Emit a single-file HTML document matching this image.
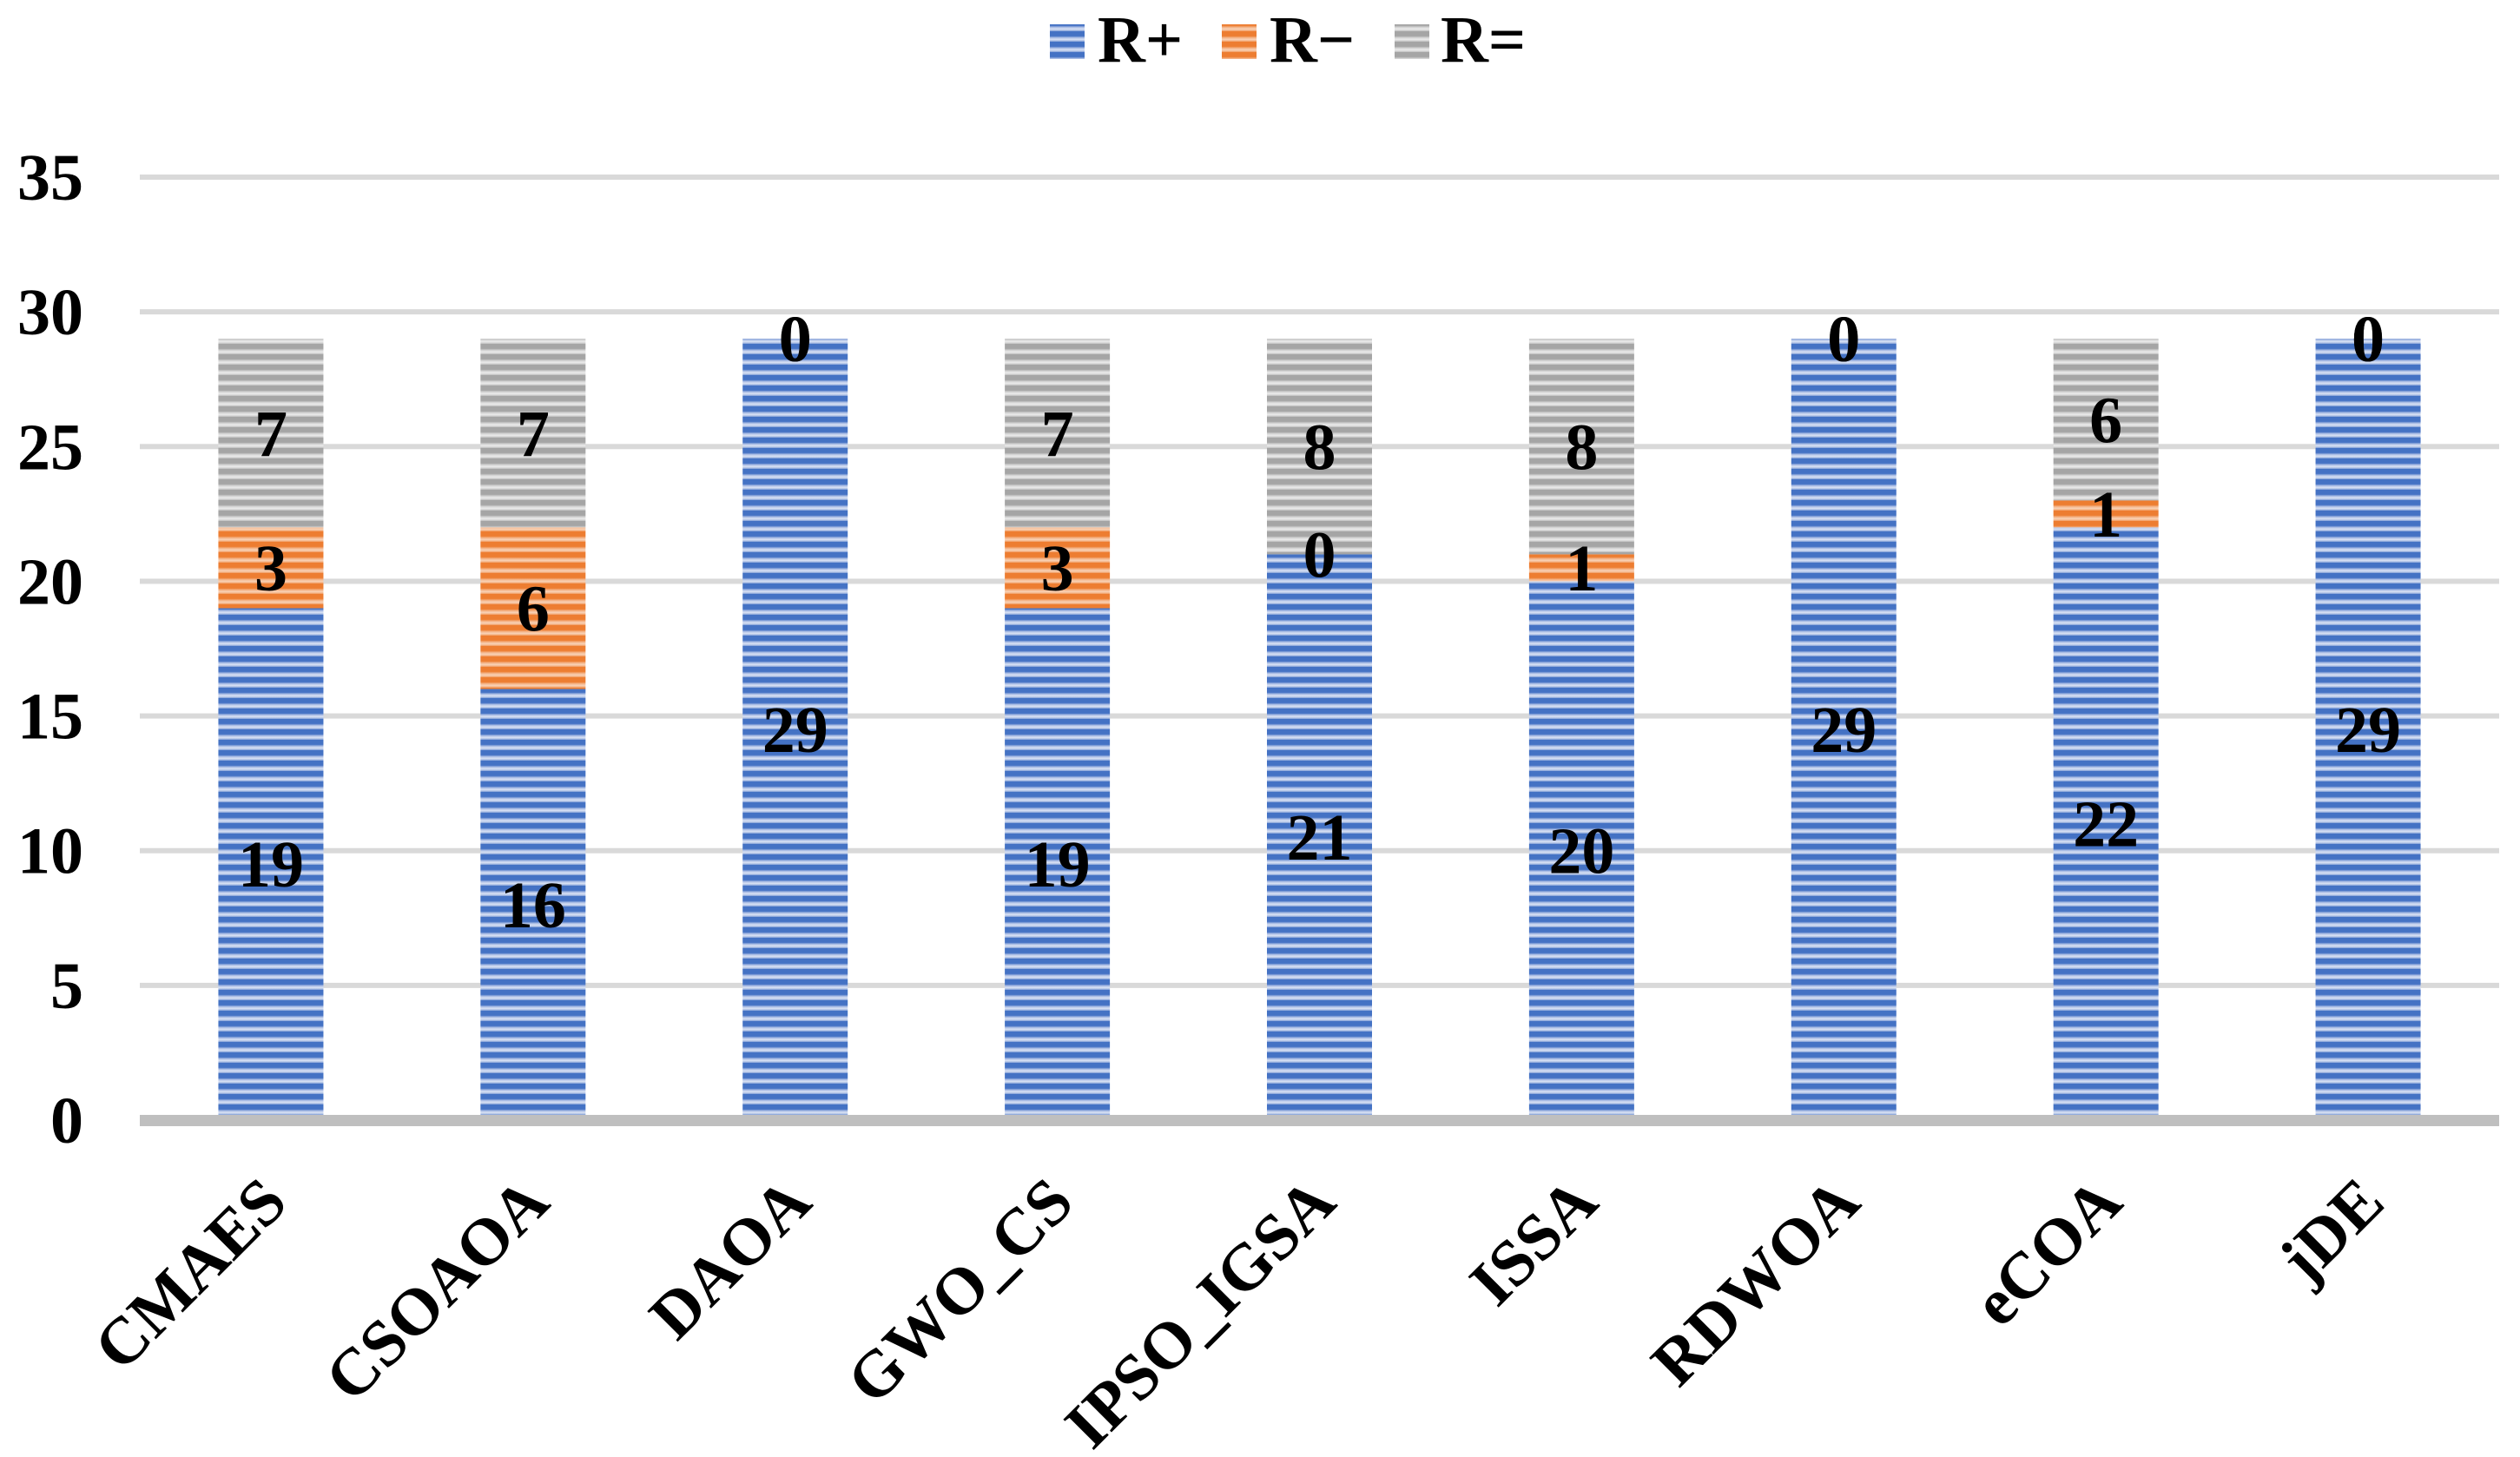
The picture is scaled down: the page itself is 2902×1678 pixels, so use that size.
<!DOCTYPE html>
<html><head><meta charset="utf-8"><style>
html,body{margin:0;padding:0;background:#fff;}
svg{display:block;}
text{font-family:"Liberation Serif","Times New Roman",Times,serif;font-weight:bold;fill:#000;}
</style></head><body>
<svg id="chart" width="2902" height="1678" viewBox="0 0 2902 1678" xmlns="http://www.w3.org/2000/svg" font-family="Liberation Serif, Times New Roman, serif">
<defs>
<linearGradient id="gB" x1="0" y1="0" x2="0" y2="1"><stop offset="0" stop-color="#4472c4"/><stop offset="0.45" stop-color="#4472c4"/><stop offset="0.62" stop-color="#aebfe6"/><stop offset="0.8" stop-color="#dbe3f4"/><stop offset="1" stop-color="#7f9dd6"/></linearGradient>
<linearGradient id="gO" x1="0" y1="0" x2="0" y2="1"><stop offset="0" stop-color="#ed7d31"/><stop offset="0.45" stop-color="#ed7d31"/><stop offset="0.62" stop-color="#f4b489"/><stop offset="0.8" stop-color="#f9d3b8"/><stop offset="1" stop-color="#f09a60"/></linearGradient>
<linearGradient id="gG" x1="0" y1="0" x2="0" y2="1"><stop offset="0" stop-color="#a5a5a5"/><stop offset="0.45" stop-color="#a5a5a5"/><stop offset="0.62" stop-color="#d5d5d5"/><stop offset="0.8" stop-color="#ebebeb"/><stop offset="1" stop-color="#bdbdbd"/></linearGradient>
<pattern id="pB" patternUnits="userSpaceOnUse" width="12" height="12"><rect width="12" height="12" fill="url(#gB)"/></pattern>
<pattern id="pO" patternUnits="userSpaceOnUse" width="12" height="12"><rect width="12" height="12" fill="url(#gO)"/></pattern>
<pattern id="pG" patternUnits="userSpaceOnUse" width="12" height="12"><rect width="12" height="12" fill="url(#gG)"/></pattern>
</defs>
<g id="grid"></g>
<g id="bars"></g>
<rect x="161" y="1284" width="2717" height="13" fill="#bfbfbf"/>
<g id="ylabels"></g>
<g id="xlabels"></g>
<g id="vlabels"></g>
<g>
  <g><rect x="1209" y="28" width="40" height="40" fill="url(#pB)"/><text x="1264" y="71" font-size="76">R+</text></g>
  <g><rect x="1407" y="28" width="40" height="40" fill="url(#pO)"/><text x="1462" y="71" font-size="76">R−</text></g>
  <g><rect x="1606" y="28" width="40" height="40" fill="url(#pG)"/><text x="1659" y="71" font-size="76">R=</text></g>
</g>
</svg>
<script>
const categories = ["CMAES","CSOAOA","DAOA","GWO_CS","IPSO_IGSA","ISSA","RDWOA","eCOA","jDE"];
const rPlus = [19,16,29,19,21,20,29,22,29];
const rMinus = [3,6,0,3,0,1,0,1,0];
const rEqual = [7,7,0,7,8,8,0,6,0];
const yTicks = [0,5,10,15,20,25,30,35];

const NS = "http://www.w3.org/2000/svg";
const plotL = 161, plotR = 2878, y0 = 1290, unitPx = 1086/35;
const bw = 121;
const step = (plotR - plotL) / categories.length;
function yScale(v){ return y0 - v * unitPx; }
function xCenter(i){ return plotL + step * (i + 0.5); }
function mk(tag, attrs, parent){ const e = document.createElementNS(NS, tag); for (const k in attrs) e.setAttribute(k, attrs[k]); parent.appendChild(e); return e; }

const grid = document.getElementById('grid');
const yl = document.getElementById('ylabels');
yTicks.forEach(t => {
  if (t > 0) {
    const g = mk('rect', {x: plotL, y: yScale(t) - 3, width: plotR - plotL, height: 6, fill: '#d9d9d9'}, grid);
    
    
  }
  const tx = mk('text', {x: 96, y: yScale(t) + 26, 'font-size': 76, 'text-anchor': 'end'}, yl);
  tx.textContent = t;
  
  
});

const bars = document.getElementById('bars');
const vl = document.getElementById('vlabels');
const xl = document.getElementById('xlabels');
const series = [[rPlus, 'url(#pB)', 'r-plus'], [rMinus, 'url(#pO)', 'r-minus'], [rEqual, 'url(#pG)', 'r-equal']];
categories.forEach((c, i) => {
  const cx = xCenter(i);
  let base = 0;
  series.forEach(([arr, fill, nm]) => {
    const v = arr[i];
    const top = base + v;
    if (v > 0) {
      const r = mk('rect', {x: cx - bw/2, y: yScale(top), width: bw, height: yScale(base) - yScale(top), fill: fill}, bars);
      
      
    }
    const t = mk('text', {x: cx, y: yScale((base + top) / 2) + 26, 'font-size': 76, 'text-anchor': 'middle'}, vl);
    t.textContent = v;
    
    
    base = top;
  });
  const px = cx + 22, py = 1388;
  const lt = mk('text', {x: px, y: py, 'font-size': 76, 'text-anchor': 'end', transform: 'rotate(-45 ' + px + ' ' + py + ')'}, xl);
  lt.textContent = c;
  
  
});
</script>
</body></html>
